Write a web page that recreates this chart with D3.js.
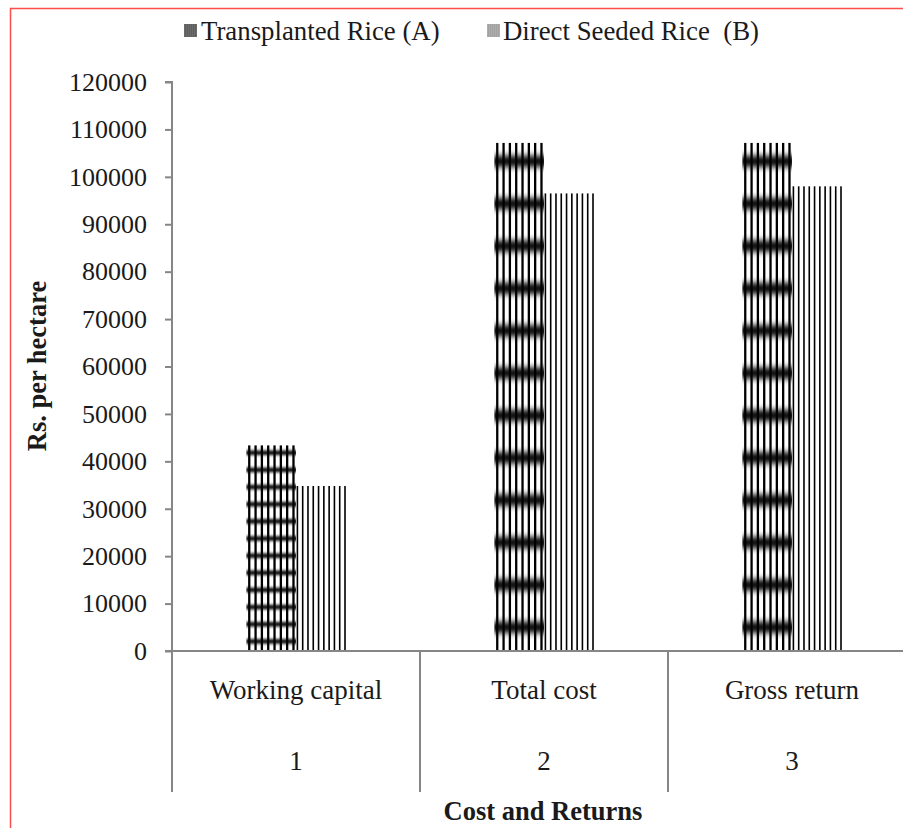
<!DOCTYPE html>
<html>
<head>
<meta charset="utf-8">
<script src="https://cdn.jsdelivr.net/npm/d3@7/dist/d3.min.js"></script>
<style>
  html, body { margin: 0; padding: 0; background: #fff; }
  svg { display: block; }
  text { font-family: "Liberation Serif", "Times New Roman", serif; fill: #1a1a1a; }
</style>
</head>
<body>
<div id="chart"></div>
<script>
// Cost and returns of rice cultivation (Rs. per hectare)
const categories = ["Working capital", "Total cost", "Gross return"];
const categoryNumbers = ["1", "2", "3"];
const seriesNames = ["Transplanted Rice (A)", "Direct Seeded Rice  (B)"];
const transplanted = [43400, 107200, 107200];
const directSeeded = [34800, 96500, 98000];
const yTicks = [0, 10000, 20000, 30000, 40000, 50000, 60000, 70000, 80000, 90000, 100000, 110000, 120000];

const W = 903, H = 828;
const svg = d3.select("#chart").append("svg")
  .attr("width", W).attr("height", H);
const defs = svg.append("defs");

// outer frame (red)
svg.append("rect")
  .attr("x", 10.5).attr("y", 8.5)
  .attr("width", W + 20).attr("height", H + 20)
  .attr("fill", "none").attr("stroke", "#ff4d4d").attr("stroke-width", 1.5);

const plot = { left: 172, top: 82, bottom: 651, bandW: 248 };

const y = d3.scaleLinear().domain([0, 120000]).range([plot.bottom, plot.top]);
const x = d3.scaleBand().domain(categories)
  .range([plot.left, plot.left + plot.bandW * categories.length])
  .paddingInner(0).paddingOuter(0);

const axisColor = "#868686";

// y axis
const yAxis = d3.axisLeft(y).tickValues(yTicks).tickSize(7).tickPadding(18)
  .tickFormat(d3.format("d"));
const gy = svg.append("g").attr("transform", `translate(${plot.left},0)`).call(yAxis)
  .attr("font-family", null);
gy.select(".domain").attr("stroke", axisColor).attr("stroke-width", 2)
  .attr("d", `M-7,${plot.top}H0V${plot.bottom}`);
gy.selectAll(".tick line").attr("stroke", axisColor).attr("stroke-width", 2);
gy.selectAll(".tick text").attr("font-size", 26).attr("fill", "#1a1a1a");

// bars
const barW = x.bandwidth() * 0.2;
const series = [
  { key: "A", values: transplanted, offset: -1 },
  { key: "B", values: directSeeded, offset: 0 }
];

function drawTransplanted(g, x0, y0, w, h, id) {
  const clipId = "clip-" + id;
  defs.append("clipPath").attr("id", clipId)
    .append("rect").attr("x", x0).attr("y", y0).attr("width", w).attr("height", h);
  const cg = g.append("g").attr("clip-path", `url(#${clipId})`);
  cg.append("rect").attr("x", x0).attr("y", y0).attr("width", w).attr("height", h).attr("fill", "#fff");
  // vertical stripes
  const step = w / 7.85;
  d3.range(8).forEach(i => {
    cg.append("rect").attr("x", x0 + 1.7 + i * step).attr("y", y0)
      .attr("width", 2.3).attr("height", h).attr("fill", "#000");
  });
  // horizontal bands, stretched with the bar height
  const n = 12, period = h / n;
  const fid = "blur-" + id;
  defs.append("filter").attr("id", fid)
    .attr("x", "-5%").attr("y", "-20%").attr("width", "110%").attr("height", "140%")
    .append("feGaussianBlur").attr("stdDeviation", `0 ${(period * 0.08).toFixed(2)}`);
  const bg = cg.append("g").attr("filter", `url(#${fid})`);
  d3.range(n).forEach(i => {
    const cy = y0 + (i + 0.44) * period;
    bg.append("rect").attr("x", x0 - 2).attr("y", cy - period * 0.13)
      .attr("width", w + 4).attr("height", period * 0.26).attr("fill", "#000");
  });
}

function drawDirect(g, x0, y0, w, h, id) {
  g.append("rect").attr("x", x0).attr("y", y0).attr("width", w).attr("height", h).attr("fill", "#fff");
  const step = (w - 2) / 9;
  d3.range(10).forEach(i => {
    g.append("rect").attr("x", x0 + 0.6 + i * step).attr("y", y0)
      .attr("width", 1.6).attr("height", h).attr("fill", "#000");
  });
}

const barsG = svg.append("g");
series.forEach(s => {
  s.values.forEach((v, i) => {
    const cx = x(categories[i]) + x.bandwidth() / 2;
    const x0 = cx + s.offset * barW;
    const y0 = y(v);
    const h = y(0) - y0;
    if (s.key === "A") drawTransplanted(barsG, x0, y0, barW, h, s.key + i);
    else drawDirect(barsG, x0, y0, barW, h, s.key + i);
  });
});

// x axis with category boundaries
const xg = svg.append("g");
xg.append("line").attr("x1", plot.left - 7).attr("x2", W + 20)
  .attr("y1", plot.bottom).attr("y2", plot.bottom)
  .attr("stroke", axisColor).attr("stroke-width", 2);
const bounds = categories.map(c => x(c)).concat([x.range()[1]]);
xg.selectAll("line.sep").data(bounds).join("line").attr("class", "sep")
  .attr("x1", d => d).attr("x2", d => d)
  .attr("y1", plot.bottom).attr("y2", 792)
  .attr("stroke", axisColor).attr("stroke-width", 2);
xg.selectAll("text.cat").data(categories).join("text").attr("class", "cat")
  .attr("x", d => x(d) + x.bandwidth() / 2).attr("y", 699)
  .attr("text-anchor", "middle").attr("font-size", 27).text(d => d);
xg.selectAll("text.num").data(categoryNumbers).join("text").attr("class", "num")
  .attr("x", (d, i) => x(categories[i]) + x.bandwidth() / 2).attr("y", 770)
  .attr("text-anchor", "middle").attr("font-size", 27).text(d => d);

// axis titles
svg.append("text").attr("x", 543).attr("y", 820).attr("text-anchor", "middle")
  .attr("font-size", 26.5).attr("font-weight", "bold").text("Cost and Returns");
svg.append("text").attr("transform", "translate(46,366) rotate(-90)")
  .attr("text-anchor", "middle").attr("font-size", 26.5).attr("font-weight", "bold")
  .text("Rs. per hectare");

// legend
const legendPatterns = [
  { fill: "#6b6b6b", line: "#555" },
  { fill: "#adadad", line: "#999" }
];
const legendPos = [{ x: 184, tx: 201 }, { x: 487, tx: 503 }];
seriesNames.forEach((name, i) => {
  const lg = svg.append("g");
  lg.append("rect").attr("x", legendPos[i].x).attr("y", 24).attr("width", 13).attr("height", 13)
    .attr("fill", legendPatterns[i].fill);
  d3.range(1, 13, 2).forEach(k => {
    lg.append("line").attr("x1", legendPos[i].x + k + 0.5).attr("x2", legendPos[i].x + k + 0.5)
      .attr("y1", 24).attr("y2", 37).attr("stroke", legendPatterns[i].line).attr("stroke-width", 0.6);
  });
  lg.append("text").attr("x", legendPos[i].tx).attr("y", 40).attr("font-size", 26.8)
    .attr("xml:space", "preserve").style("white-space", "pre").text(name);
});
</script>
</body>
</html>
